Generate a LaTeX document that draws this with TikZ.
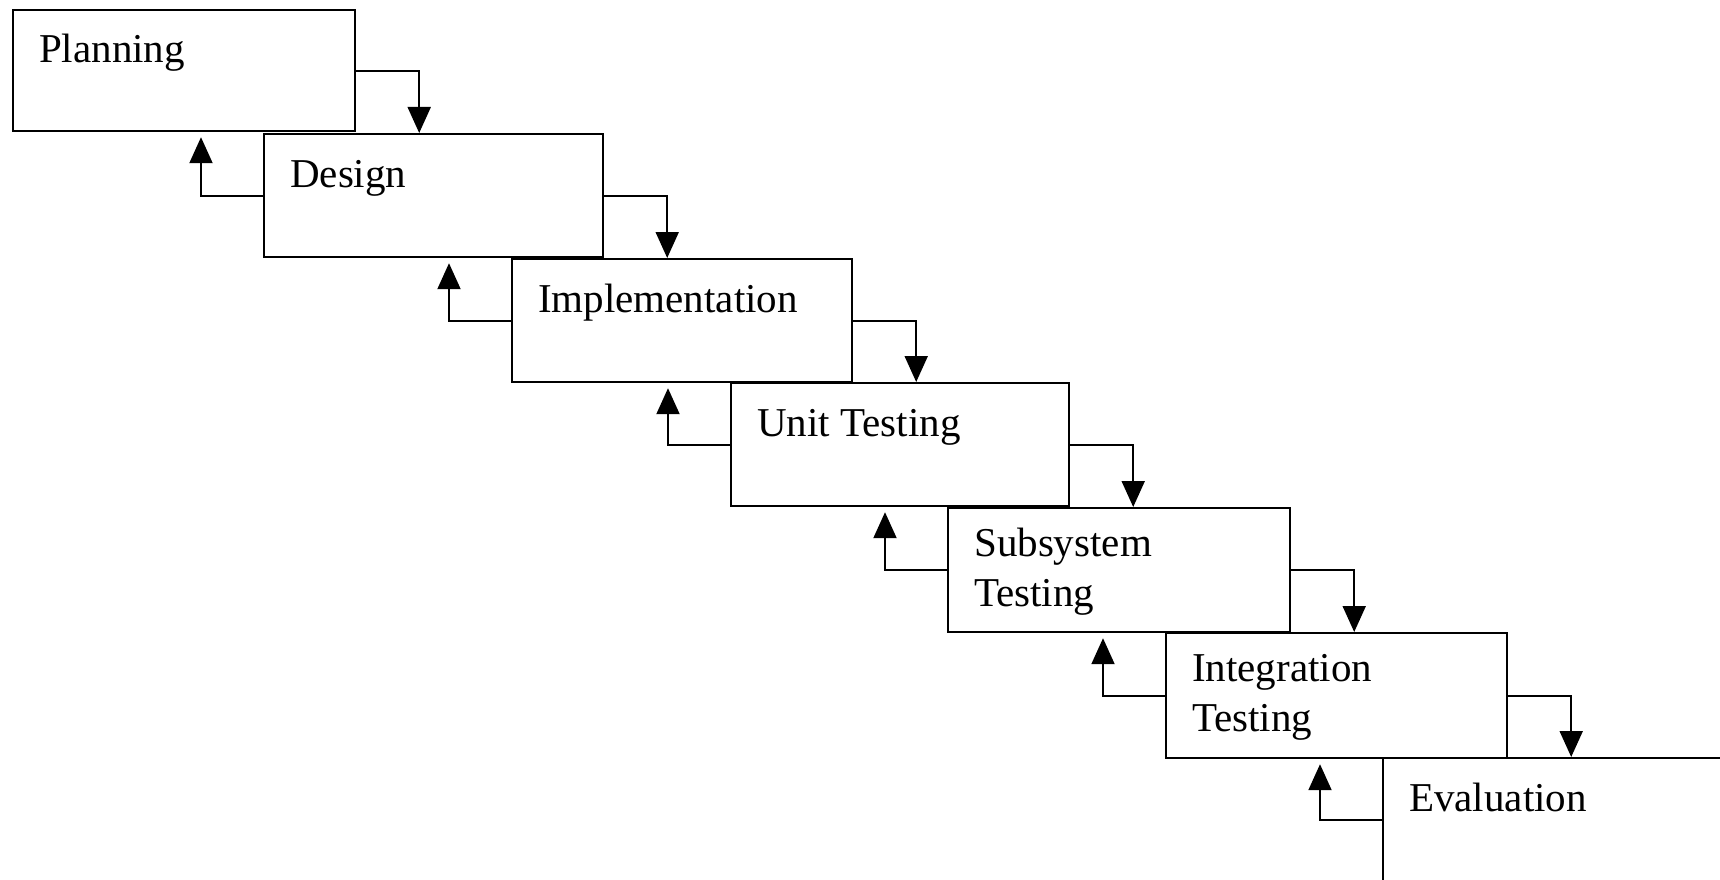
\documentclass[tikz,border=0pt]{standalone}
\usepackage{fontspec}
\setmainfont{Liberation Serif}
\usetikzlibrary{arrows.meta}
\tikzset{
  stage/.style={draw=black, line width=2.2pt, fill=none, inner sep=0pt, anchor=north west, rectangle},
  lbl/.style={inner sep=0pt, anchor=base west, font=\fontsize{41}{49}\selectfont},
  arr/.style={draw=black, line width=2pt, -{Triangle[width=23pt,length=26pt]}},
}
\begin{document}
\begin{tikzpicture}[x=1pt,y=1pt]
\useasboundingbox (0,0) rectangle (1720,-880);
\clip (0,0) rectangle (1720,-880);
% boxes
\node[stage, minimum width=342pt, minimum height=121pt] (p) at (12,-9) {};
\node[stage, minimum width=339pt, minimum height=123pt] (d) at (263,-133) {};
\node[stage, minimum width=340pt, minimum height=123pt] (i) at (511,-258) {};
\node[stage, minimum width=338pt, minimum height=123pt] (u) at (730,-382) {};
\node[stage, minimum width=342pt, minimum height=124pt] (s) at (947,-507) {};
\node[stage, minimum width=341pt, minimum height=125pt] (t) at (1165,-632) {};
\node[stage, minimum width=342pt, minimum height=123pt] (e) at (1382,-757) {};
% labels
\node[lbl] (pl) at ([shift={(27,-54)}]p.north west) {Planning};
\node[lbl] (dl) at ([shift={(27,-54)}]d.north west) {Design};
\node[lbl] (il) at ([shift={(27,-54)}]i.north west) {Implementation};
\node[lbl] (ul) at ([shift={(27,-54)}]u.north west) {Unit Testing};
\node[lbl] (sl1) at ([shift={(27,-49)}]s.north west) {Subsystem};
\node[lbl] (sl2) at ([shift={(27,-99)}]s.north west) {Testing};
\node[lbl] (tl1) at ([shift={(27,-49)}]t.north west) {Integration};
\node[lbl] (tl2) at ([shift={(27,-99)}]t.north west) {Testing};
\node[lbl] (el) at ([shift={(27,-54)}]e.north west) {Evaluation};
% forward arrows
\foreach \a/\b in {p/d, d/i, i/u, u/s, s/t, t/e}{
  \draw[arr] (\a.east) -- ++(63,0) coordinate (f\a) -- (f\a |- \b.north);
}
% backward arrows
\foreach \a/\b in {p/d, d/i, i/u, u/s, s/t, t/e}{
  \draw[arr, shorten >=5pt] (\b.west) -- ++(-62,0) coordinate (g\b) -- (g\b |- \a.south);
}
\end{tikzpicture}
\end{document}
